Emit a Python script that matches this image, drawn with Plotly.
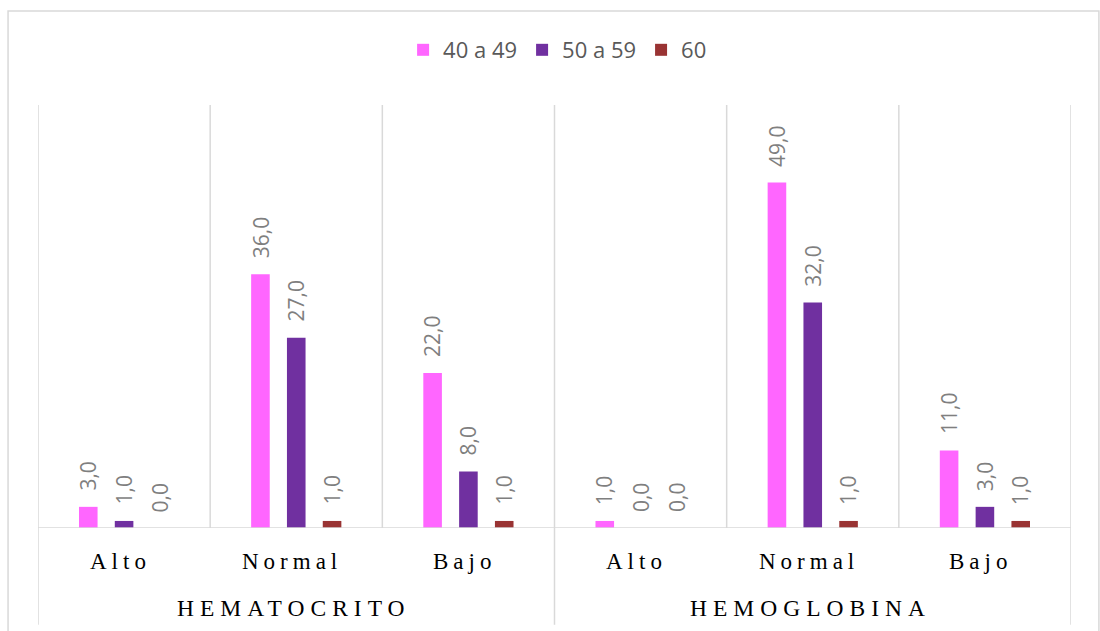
import plotly.graph_objects as go

# Data
groups = ["HEMATOCRITO", "HEMOGLOBINA"]
levels = ["Alto", "Normal", "Bajo"]
series_names = ["40 a 49", "50 a 59", "60"]
s_40_49 = [3.0, 36.0, 22.0, 1.0, 49.0, 11.0]
s_50_59 = [1.0, 27.0, 8.0, 0.0, 32.0, 3.0]
s_60 = [0.0, 1.0, 1.0, 0.0, 1.0, 1.0]
series_values = [s_40_49, s_50_59, s_60]
colors = ["#FF66FF", "#7030A0", "#993333"]

n_cat = len(groups) * len(levels)
cat_pos = list(range(n_cat))
offsets = [-0.208, 0.0, 0.208]
bar_w = 0.108
grid_col = "#D9D9D9"

fig = go.Figure()
annotations = []
for name, vals, col, off in zip(series_names, series_values, colors, offsets):
    xs = [c + off for c in cat_pos]
    fig.add_trace(go.Bar(
        x=xs, y=vals, width=bar_w, name=name,
        marker=dict(color=col, line=dict(width=0)),
        hoverinfo="skip",
    ))
    for x, v in zip(xs, vals):
        annotations.append(dict(
            x=x, y=v, xref="x", yref="y",
            text=f"{v:.1f}".replace(".", ","),
            textangle=-90, showarrow=False,
            xanchor="center", yanchor="bottom", yshift=14,
            font=dict(family="Open Sans", size=21, color="#7F7F7F"),
        ))

# Level labels under each category and group labels below them
for i in range(n_cat):
    annotations.append(dict(
        x=cat_pos[i], y=-0.080, xref="x", yref="paper",
        text=levels[i % len(levels)], showarrow=False,
        xanchor="center", yanchor="middle", xshift=-4,
        font=dict(family="Liberation Serif", size=23, color="#000000"),
    ))
for g, name in enumerate(groups):
    center = (g * len(levels) + (g + 1) * len(levels) - 1) / 2
    annotations.append(dict(
        x=center, y=-0.189, xref="x", yref="paper",
        text=name, showarrow=False,
        xanchor="center", yanchor="middle", xshift=-2,
        font=dict(family="Liberation Serif", size=23.5, color="#000000"),
    ))

shapes = []
# Vertical dividers: full-height ones between groups, short ones between levels
for k in range(n_cat + 1):
    xb = k - 0.5
    major = k % len(levels) == 0
    shapes.append(dict(
        type="line", xref="x", yref="paper",
        x0=xb, x1=xb, y0=-0.229 if major else 0, y1=1,
        line=dict(color=grid_col, width=1.5),
    ))
# Baseline
shapes.append(dict(
    type="line", xref="x", yref="y",
    x0=-0.5, x1=n_cat - 0.5, y0=0, y1=0,
    line=dict(color=grid_col, width=1.5),
))
# Chart frame
shapes.append(dict(
    type="rect", xref="paper", yref="paper",
    x0=-0.029, x1=1.027, y0=-0.4, y1=1.222,
    line=dict(color=grid_col, width=1.5), fillcolor="rgba(0,0,0,0)",
    layer="below",
))

fig.update_layout(
    width=1100, height=631, autosize=False,
    margin=dict(l=38, r=29, t=105, b=103),
    paper_bgcolor="white", plot_bgcolor="white",
    barmode="overlay",
    showlegend=True,
    legend=dict(
        orientation="h", x=0.503, xanchor="center", y=1.13, yanchor="middle",
        font=dict(family="Open Sans", size=22, color="#595959"),
        itemclick=False, itemdoubleclick=False,
    ),
    xaxis=dict(range=[-0.5, n_cat - 0.5], showgrid=False, zeroline=False,
               showticklabels=False, showline=False, fixedrange=True),
    yaxis=dict(range=[0, 60], showgrid=False, zeroline=False,
               showticklabels=False, showline=False, fixedrange=True),
    annotations=annotations,
    shapes=shapes,
)

# Widen the tracking of the serif axis labels
post = """
var gd = document.getElementById('{plot_id}');
gd.querySelectorAll('text.annotation-text').forEach(function(t){
  var fam = t.style.fontFamily || '';
  if (fam.indexOf('Serif') !== -1) {
    var caps = t.textContent === t.textContent.toUpperCase();
    t.style.letterSpacing = caps ? '6px' : '5px';
  }
});
"""

fig.write_html("out.html", post_script=post, config={"displayModeBar": False})
